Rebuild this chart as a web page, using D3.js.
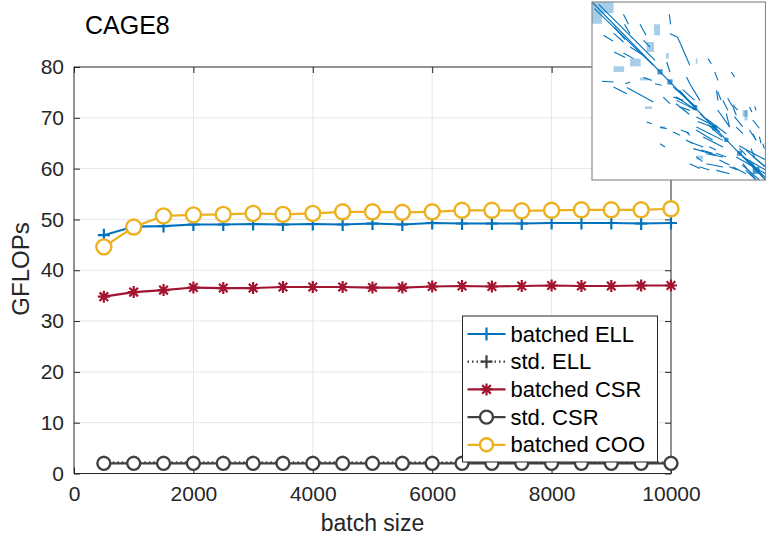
<!DOCTYPE html>
<html>
<head>
<meta charset="utf-8">
<script src="https://cdn.jsdelivr.net/npm/d3@7"></script>
<style>
  html, body { margin: 0; padding: 0; background: #fff; }
  svg { display: block; font-family: "Liberation Sans", Arial, sans-serif; }
</style>
</head>
<body>
<svg id="chart" width="766" height="542"></svg>
<script>
// batch sizes and measured GFLOPs for the CAGE8 matrix
const batchSizes = [500, 1000, 1500, 2000, 2500, 3000, 3500, 4000, 4500, 5000,
                    5500, 6000, 6500, 7000, 7500, 8000, 8500, 9000, 9500, 10000];
const batchedELL = [46.9, 48.6, 48.7, 49.0, 49.0, 49.1, 49.0, 49.1, 49.0, 49.2,
                    49.0, 49.3, 49.2, 49.2, 49.2, 49.3, 49.3, 49.3, 49.2, 49.3];
const stdELL     = [2.2, 2.2, 2.2, 2.2, 2.2, 2.2, 2.2, 2.2, 2.2, 2.2,
                    2.2, 2.2, 2.2, 2.2, 2.2, 2.2, 2.2, 2.2, 2.2, 2.2];
const batchedCSR = [34.8, 35.7, 36.1, 36.6, 36.5, 36.5, 36.7, 36.7, 36.7, 36.6,
                    36.6, 36.8, 36.9, 36.8, 36.9, 37.0, 36.9, 36.9, 37.0, 37.0];
const stdCSR     = [2.0, 2.0, 2.0, 2.0, 2.0, 2.0, 2.0, 2.0, 2.0, 2.0,
                    2.0, 2.0, 2.0, 2.0, 2.0, 2.0, 2.0, 2.0, 2.0, 2.0];
const batchedCOO = [44.6, 48.5, 50.7, 50.9, 51.0, 51.2, 51.0, 51.2, 51.5, 51.5,
                    51.4, 51.5, 51.8, 51.8, 51.7, 51.8, 51.9, 51.9, 51.9, 52.1];

const xTicks = [0, 2000, 4000, 6000, 8000, 10000];
const yTicks = [0, 10, 20, 30, 40, 50, 60, 70, 80];
const seriesNames = ["batched ELL", "std. ELL", "batched CSR", "std. CSR", "batched COO"];

// sparsity pattern of cage8 (n = 1015): runs of nonzeros as [c0, r0, c1, r1]
const matrixSize = 1015;
const spyRuns = [
  [0, 0, 1015, 1015], [14, 38, 359, 361], [39, 13, 369, 333],
  [184, 70, 213, 127], [190, 127, 223, 181], [281, 127, 316, 190], [452, 70, 460, 127],
  [130, 143, 194, 215], [126, 177, 184, 228], [68, 190, 122, 222],
  [130, 285, 194, 317], [184, 291, 243, 323], [223, 257, 301, 304], [301, 219, 340, 257],
  [456, 181, 499, 200], [499, 200, 518, 238], [518, 238, 572, 361],
  [437, 342, 456, 399], [58, 452, 126, 456], [126, 485, 204, 523], [204, 488, 359, 570],
  [194, 466, 223, 456], [301, 431, 349, 447], [369, 466, 407, 475],
  [320, 684, 349, 694], [398, 713, 437, 722], [475, 741, 514, 760], [398, 808, 427, 827],
  [553, 741, 572, 760], [679, 323, 698, 352], [718, 399, 737, 447], [815, 399, 834, 428],
  [728, 504, 737, 561], [553, 428, 572, 466], [572, 466, 631, 561], [475, 485, 611, 599],
  [495, 561, 611, 618], [631, 637, 747, 741], [611, 713, 766, 789], [669, 665, 786, 751],
  [766, 561, 795, 618], [825, 599, 844, 646], [922, 599, 935, 627], [951, 595, 960, 618],
  [844, 713, 883, 751], [786, 637, 805, 713], [572, 798, 650, 827], [592, 836, 728, 874],
  [669, 865, 766, 884], [572, 922, 631, 950], [669, 922, 766, 941], [728, 960, 805, 979],
  [825, 941, 902, 979], [999, 808, 1009, 836], [941, 751, 960, 789],
  [844, 884, 1015, 979], [883, 922, 960, 1015], [902, 846, 1015, 941], [922, 903, 1015, 1015],
  [475, 542, 534, 561], [417, 542, 456, 580], [514, 599, 572, 618],
  [611, 656, 728, 713], [650, 770, 766, 827], [680, 700, 760, 770], [860, 820, 1015, 900],
  [735, 511, 755, 559], [794, 549, 823, 597], [823, 587, 852, 616], [735, 616, 804, 711],
  [833, 654, 881, 711], [618, 682, 725, 720], [608, 730, 706, 787], [520, 730, 569, 749],
  [550, 787, 589, 806], [686, 825, 725, 844], [638, 844, 706, 863], [608, 882, 647, 910],
  [628, 939, 686, 958], [725, 863, 784, 882], [745, 901, 804, 929], [804, 939, 852, 958],
  [940, 673, 979, 720], [921, 730, 960, 787], [930, 835, 950, 882], [979, 768, 989, 806],
  [862, 835, 901, 872], [491, 540, 608, 616], [511, 502, 589, 587], [491, 580, 569, 640],
  [530, 500, 600, 560], [881, 882, 1015, 958], [901, 901, 1015, 1000], [880, 930, 980, 1015],
  [940, 880, 1015, 940], [900, 960, 960, 1015], [850, 850, 950, 940]
];
// denser rectangular patches of nonzeros as [c0, r0, c1, r1]
const spyPatches = [
  [0, 0, 58, 124], [58, 0, 126, 63], [363, 127, 398, 190], [320, 228, 363, 285],
  [223, 323, 285, 367], [126, 367, 188, 399], [433, 291, 448, 323], [607, 323, 617, 352],
  [310, 595, 351, 610], [892, 618, 910, 675], [611, 876, 650, 899], [281, 431, 330, 447],
  [398, 709, 427, 724], [881, 616, 911, 654]
];
// diagonal blocks as [centre index, block size]
const spyDiagBlocks = [[398, 30], [456, 30], [602, 28], [718, 30], [786, 25], [863, 28], [960, 40]];

const svg = d3.select("#chart");
const axisColor = "#262626";
const colors = ["#0072BD", "#404040", "#A2142F", "#404040", "#EDB120"];

svg.append("rect").attr("width", 766).attr("height", 542).attr("fill", "#fff");

const plot = { left: 74, right: 671, top: 67, bottom: 473.5 };
const x = d3.scaleLinear().domain([0, 10000]).range([plot.left, plot.right]);
const y = d3.scaleLinear().domain([0, 80]).range([plot.bottom, plot.top]);

// grid
const grid = svg.append("g").attr("stroke", "#e6e6e6").attr("stroke-width", 1);
xTicks.slice(1, -1).forEach(t => grid.append("line")
  .attr("x1", x(t)).attr("x2", x(t)).attr("y1", plot.top).attr("y2", plot.bottom));
yTicks.slice(1, -1).forEach(t => grid.append("line")
  .attr("x1", plot.left).attr("x2", plot.right).attr("y1", y(t)).attr("y2", y(t)));

// axes with inward ticks on all four sides
const fontSize = 21;
const xAxisB = d3.axisBottom(x).tickValues(xTicks).tickSize(-6).tickPadding(13).tickFormat(d3.format("d"));
const xAxisT = d3.axisTop(x).tickValues(xTicks).tickSize(-6).tickFormat("");
const yAxisL = d3.axisLeft(y).tickValues(yTicks).tickSize(-6).tickPadding(10);
const yAxisR = d3.axisRight(y).tickValues(yTicks).tickSize(-6).tickFormat("");

function styleAxis(g) {
  g.select(".domain").remove();
  g.selectAll(".tick line").attr("stroke", axisColor).attr("stroke-width", 1);
  g.selectAll(".tick text").attr("fill", axisColor).style("font-size", fontSize + "px")
    .style("font-family", "'Liberation Sans', Arial, sans-serif");
}
svg.append("g").attr("transform", `translate(0,${plot.bottom})`).call(xAxisB).call(styleAxis);
svg.append("g").attr("transform", `translate(0,${plot.top})`).call(xAxisT).call(styleAxis);
svg.append("g").attr("transform", `translate(${plot.left},0)`).call(yAxisL).call(styleAxis);
svg.append("g").attr("transform", `translate(${plot.right},0)`).call(yAxisR).call(styleAxis);

svg.append("rect")
  .attr("x", plot.left).attr("y", plot.top)
  .attr("width", plot.right - plot.left).attr("height", plot.bottom - plot.top)
  .attr("fill", "none").attr("stroke", axisColor).attr("stroke-width", 1);

// axis labels and title
svg.append("text").attr("x", (plot.left + plot.right) / 2).attr("y", 531)
  .attr("text-anchor", "middle").attr("fill", axisColor).style("font-size", "23px").text("batch size");
svg.append("text").attr("transform", `translate(29,269) rotate(-90)`)
  .attr("text-anchor", "middle").attr("fill", axisColor).style("font-size", "24px").text("GFLOPs");
svg.append("text").attr("x", 85).attr("y", 34).attr("fill", "#000")
  .style("font-size", "25px").text("CAGE8");

// marker shapes
const markerPaths = {
  plus: "M-6,0H6M0,-6.5V6.5",
  star: "M-6,0H6M0,-6V6M-4.3,-4.3L4.3,4.3M-4.3,4.3L4.3,-4.3"
};
function drawMarker(g, type, cx, cy, color, r) {
  if (type === "circle") {
    g.append("circle").attr("cx", cx).attr("cy", cy).attr("r", r)
      .attr("fill", "#fff").attr("stroke", color).attr("stroke-width", 2.4);
  } else {
    g.append("path").attr("d", markerPaths[type]).attr("transform", `translate(${cx},${cy})`)
      .attr("fill", "none").attr("stroke", color).attr("stroke-width", 2.2);
  }
}

const series = [
  { name: seriesNames[0], values: batchedELL, color: colors[0], dash: null, marker: "plus", r: 0 },
  { name: seriesNames[1], values: stdELL, color: colors[1], dash: "1.5,3", marker: "plus", r: 0 },
  { name: seriesNames[2], values: batchedCSR, color: colors[2], dash: null, marker: "star", r: 0 },
  { name: seriesNames[3], values: stdCSR, color: colors[3], dash: null, marker: "circle", r: 6.5 },
  { name: seriesNames[4], values: batchedCOO, color: colors[4], dash: null, marker: "circle", r: 7.5 }
];

const line = d3.line().x(d => x(d[0])).y(d => y(d[1]));
series.forEach(s => {
  const g = svg.append("g");
  const pts = batchSizes.map((b, i) => [b, s.values[i]]);
  g.append("path").attr("d", line(pts)).attr("fill", "none")
    .attr("stroke", s.color).attr("stroke-width", 2.2)
    .attr("stroke-dasharray", s.dash);
  pts.forEach(p => drawMarker(g, s.marker, x(p[0]), y(p[1]), s.color, s.r));
});

// legend
const legend = { x: 462.5, y: 316, w: 195, h: 146, rowH: 27.7, first: 334 };
const lg = svg.append("g");
lg.append("rect").attr("x", legend.x).attr("y", legend.y).attr("width", legend.w).attr("height", legend.h)
  .attr("fill", "#fff").attr("stroke", axisColor).attr("stroke-width", 1);
series.forEach((s, i) => {
  const cy = legend.first + i * legend.rowH;
  lg.append("line").attr("x1", legend.x + 5).attr("x2", legend.x + 43).attr("y1", cy).attr("y2", cy)
    .attr("stroke", s.color).attr("stroke-width", 2.2).attr("stroke-dasharray", s.dash);
  drawMarker(lg, s.marker, legend.x + 24, cy, s.color, s.r ? 6.5 : 0);
  lg.append("text").attr("x", legend.x + 48).attr("y", cy + 7.5).attr("fill", "#000")
    .style("font-size", "22px").text(s.name);
});

// inset: sparsity pattern
const inset = { left: 592, right: 765.5, top: 2, bottom: 180 };
const sx = d3.scaleLinear().domain([0, matrixSize]).range([inset.left, inset.right]);
const sy = d3.scaleLinear().domain([0, matrixSize]).range([inset.top, inset.bottom]);
const ig = svg.append("g");
ig.append("rect").attr("x", inset.left).attr("y", inset.top)
  .attr("width", inset.right - inset.left).attr("height", inset.bottom - inset.top)
  .attr("fill", "#fff");
ig.selectAll("rect.patch").data(spyPatches).join("rect").attr("class", "patch")
  .attr("x", d => sx(d[0])).attr("y", d => sy(d[1]))
  .attr("width", d => sx(d[2]) - sx(d[0])).attr("height", d => sy(d[3]) - sy(d[1]))
  .attr("fill", "#0072BD").attr("fill-opacity", 0.35);
ig.selectAll("line.run").data(spyRuns).join("line").attr("class", "run")
  .attr("x1", d => sx(d[0])).attr("y1", d => sy(d[1]))
  .attr("x2", d => sx(d[2])).attr("y2", d => sy(d[3]))
  .attr("stroke", "#0072BD").attr("stroke-width", 1.1);
ig.selectAll("rect.diag").data(spyDiagBlocks).join("rect").attr("class", "diag")
  .attr("x", d => sx(d[0] - d[1] / 2)).attr("y", d => sy(d[0] - d[1] / 2))
  .attr("width", d => sx(d[1]) - sx(0)).attr("height", d => sy(d[1]) - sy(0))
  .attr("fill", "#0072BD").attr("fill-opacity", 0.75);
ig.append("rect").attr("x", inset.left).attr("y", inset.top)
  .attr("width", inset.right - inset.left).attr("height", inset.bottom - inset.top)
  .attr("fill", "none").attr("stroke", "#8c8c8c").attr("stroke-width", 1.2);
</script>
</body>
</html>
